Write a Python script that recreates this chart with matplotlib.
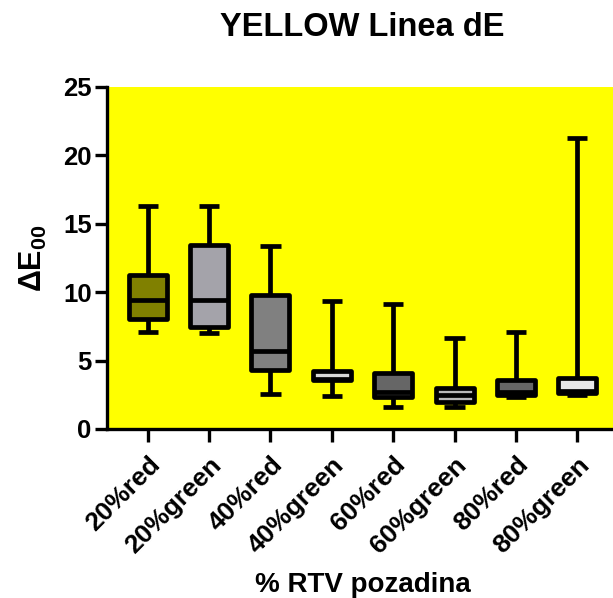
import matplotlib
matplotlib.use("Agg")
import matplotlib.pyplot as plt

plt.rcParams['font.family'] = ['Liberation Sans', 'DejaVu Sans']
plt.rcParams['font.weight'] = 'bold'
plt.rcParams['mathtext.fontset'] = 'custom'
plt.rcParams['mathtext.rm'] = 'Liberation Sans:bold'
plt.rcParams['mathtext.bf'] = 'Liberation Sans:bold'

categories = ["20%red", "20%green", "40%red", "40%green",
              "60%red", "60%green", "80%red", "80%green"]
whisker_low = [7.09, 7.04, 2.56, 2.41, 1.63, 1.59, 2.34, 2.50]
q1 = [8.02, 7.43, 4.34, 3.55, 2.34, 2.01, 2.49, 2.63]
median = [9.43, 9.43, 5.73, 3.69, 2.67, 2.45, 2.70, 2.81]
q3 = [11.26, 13.47, 9.77, 4.24, 4.09, 3.03, 3.58, 3.73]
whisker_high = [16.32, 16.32, 13.35, 9.36, 9.16, 6.63, 7.07, 21.25]
fills = ["#808000", "#A4A3AA", "#808080", "#D8D8D8",
         "#666666", "#B8B8B8", "#666666", "#E8E8E8"]

fig = plt.figure(figsize=(6.13, 5.98), dpi=100)
ax = fig.add_axes([107/613, 1-429/598, (618-107)/613, (429-87)/598])
ax.set_facecolor("#FFFF00")

stats = []
for i, c in enumerate(categories):
    stats.append(dict(label=c, whislo=whisker_low[i], q1=q1[i], med=median[i],
                      q3=q3[i], whishi=whisker_high[i], fliers=[]))

lw = 3.4
bp = ax.bxp(stats, positions=range(len(categories)), widths=0.62,
            patch_artist=True, showfliers=False, capwidths=0.33,
            boxprops=dict(linewidth=lw, edgecolor="black", joinstyle="round"),
            whiskerprops=dict(linewidth=lw, color="black", solid_capstyle="butt"),
            capprops=dict(linewidth=lw, color="black", solid_capstyle="butt"),
            medianprops=dict(linewidth=lw, color="black", solid_capstyle="butt"))
for patch, col in zip(bp['boxes'], fills):
    patch.set_facecolor(col)
    patch.set_zorder(3)
for m in bp['medians']:
    m.set_zorder(4)

ax.set_xlim(-0.664, 7.664)
ax.set_ylim(0, 25)
ax.set_yticks([0, 5, 10, 15, 20, 25])
ax.set_xticks(range(len(categories)))
ax.set_xticklabels(categories, rotation=45, ha="right", rotation_mode="anchor",
                   fontsize=19, fontweight="bold")
for lab in ax.get_yticklabels():
    lab.set_fontsize(18.5)
    lab.set_fontweight("bold")

for s in ["top", "right"]:
    ax.spines[s].set_visible(False)
for s in ["left", "bottom"]:
    ax.spines[s].set_linewidth(2.4)
ax.tick_params(axis="both", direction="out", length=9, width=2.4, pad=2)
ax.tick_params(axis="x", pad=8)

ax.set_ylabel(r"ΔE$_{00}$", fontsize=22, fontweight="bold", labelpad=10)
ax.set_xlabel("% RTV pozadina", fontsize=20, fontweight="bold", labelpad=10)
fig.text(362/613, 1-28/598, "YELLOW Linea dE", ha="center", va="center",
         fontsize=23.5, fontweight="bold")

fig.savefig("out.png", dpi=100)
